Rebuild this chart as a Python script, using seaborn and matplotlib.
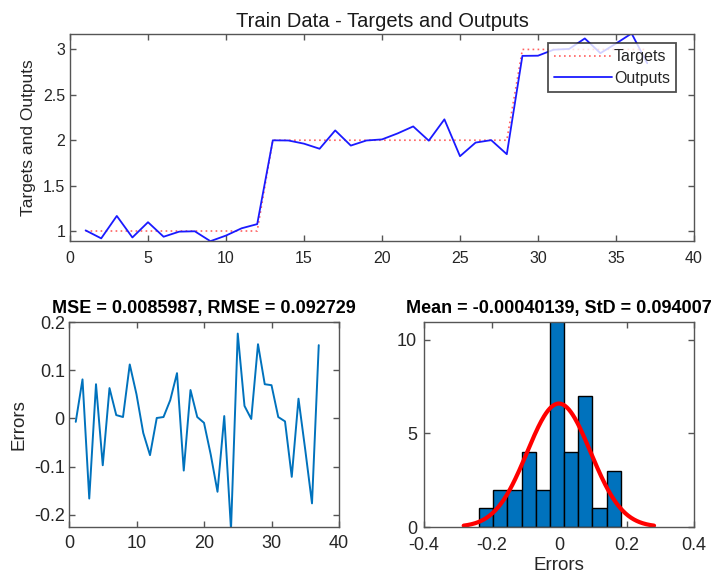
import numpy as np
import pandas as pd
import matplotlib
matplotlib.use("Agg")
import matplotlib.pyplot as plt
import seaborn as sns

# ---------------- data ----------------
sample_idx = list(range(1, 38))
targets = [1]*12 + [2]*16 + [3]*9
errors = [-0.007, 0.081, -0.166, 0.071, -0.097, 0.063, 0.007, 0.003, 0.112, 0.050,
          -0.030, -0.076, 0.001, 0.003, 0.038, 0.094, -0.108, 0.059, 0.003, -0.009,
          -0.075, -0.152, 0.005, -0.230, 0.176, 0.026, -0.001, 0.154, 0.071, 0.069,
          0.003, -0.006, -0.121, 0.041, -0.065, -0.176, 0.152]
outputs = [t - e for t, e in zip(targets, errors)]
hist_edges = [-0.237 + 0.042*k for k in range(11)]
mse, rmse = 0.0085987, 0.092729
err_mean, err_std = -0.00040139, 0.094007

# ---------------- styling ----------------
sns.set_theme(style="white")
plt.rcParams['font.family'] = ['Liberation Sans', 'DejaVu Sans']
EDGE = '#555555'
TXT = '#262626'
plt.rcParams.update({
    'axes.edgecolor': EDGE, 'axes.linewidth': 1.0,
    'xtick.color': EDGE, 'ytick.color': EDGE,
    'xtick.labelcolor': TXT, 'ytick.labelcolor': TXT,
    'axes.labelcolor': TXT,
})

W, H = 711, 578
fig = plt.figure(figsize=(W/100, H/100), dpi=100)

def box(l, t, r, b):
    return [l/W, 1 - b/H, (r-l)/W, (b-t)/H]

ax1 = fig.add_axes(box(70, 34, 694, 241))
ax2 = fig.add_axes(box(69, 322, 339, 527))
ax3 = fig.add_axes(box(424, 322, 694, 527))

def matlab_ticks(ax, size, xpad, ypad):
    ax.tick_params(direction='in', length=4, width=1.0, top=True, right=True,
                   bottom=True, left=True, labelsize=size)
    ax.tick_params(axis='x', pad=xpad)
    ax.tick_params(axis='y', pad=ypad)
    for s in ax.spines.values():
        s.set_visible(True)
        s.set_color(EDGE)

# ---------------- top: targets and outputs ----------------
df = pd.DataFrame({'x': sample_idx, 'Targets': targets, 'Outputs': outputs})
sns.lineplot(data=df, x='x', y='Targets', ax=ax1, color='#ff6060',
             linestyle=(0, (1, 2)), linewidth=1.2, label='Targets')
sns.lineplot(data=df, x='x', y='Outputs', ax=ax1, color='#1a1aff',
             linewidth=1.3, label='Outputs')
ax1.set_xlim(0, 40)
ax1.set_ylim(0.89, 3.17)
ax1.set_xticks(range(0, 41, 5))
ax1.set_yticks([1, 1.5, 2, 2.5, 3])
ax1.set_yticklabels(['1', '1.5', '2', '2.5', '3'])
ax1.set_xlabel('')
ax1.set_ylabel('Targets and Outputs', fontsize=12.5, labelpad=5)
ax1.set_title('Train Data - Targets and Outputs', fontsize=14.5, fontweight='normal',
              color='#1a1a1a', pad=5)
matlab_ticks(ax1, 11.5, 7.5, 3.5)
leg = ax1.legend(loc='upper right', fontsize=11.5, frameon=True, fancybox=False,
                 borderpad=0.4, handlelength=3.6, labelspacing=0.4,
                 borderaxespad=0.55, handletextpad=0.15, bbox_to_anchor=(0.986, 1.0))
leg.get_frame().set_edgecolor('#222222')
leg.get_frame().set_linewidth(1.3)

# ---------------- bottom-left: errors ----------------
dfe = pd.DataFrame({'x': sample_idx, 'Errors': errors})
sns.lineplot(data=dfe, x='x', y='Errors', ax=ax2, color='#0072BD', linewidth=1.4)
ax2.set_xlim(0, 40)
ax2.set_ylim(-0.225, 0.2)
ax2.set_xticks([0, 10, 20, 30, 40])
ax2.set_yticks([-0.2, -0.1, 0, 0.1, 0.2])
ax2.set_yticklabels(['-0.2', '-0.1', '0', '0.1', '0.2'])
ax2.set_xlabel('')
ax2.set_ylabel('Errors', fontsize=13.5, labelpad=5)
ax2.set_title(f'MSE = {mse}, RMSE = {rmse}', fontsize=13, fontweight='bold',
              color='black', pad=6.5)
matlab_ticks(ax2, 13, 6, 3)

# ---------------- bottom-right: histogram ----------------
sns.histplot(x=errors, bins=hist_edges, ax=ax3, color='#0072BD', alpha=1,
             edgecolor='black', linewidth=1.0)
xs = np.linspace(err_mean - 3*err_std, err_mean + 3*err_std, 200)
scale = len(errors) * (hist_edges[1] - hist_edges[0])
pdf = scale / (err_std*np.sqrt(2*np.pi)) * np.exp(-0.5*((xs - err_mean)/err_std)**2)
sns.lineplot(x=xs, y=pdf, ax=ax3, color='red', linewidth=3)
ax3.set_xlim(-0.4, 0.4)
ax3.set_ylim(0, 10.95)
ax3.set_xticks([-0.4, -0.2, 0, 0.2, 0.4])
ax3.set_xticklabels(['-0.4', '-0.2', '0', '0.2', '0.4'])
ax3.set_yticks([0, 5, 10])
ax3.set_ylabel('')
ax3.set_xlabel('Errors', fontsize=13.5, labelpad=2)
ax3.set_title(f'Mean = {err_mean}, StD = {err_std}', fontsize=13, fontweight='bold',
              color='black', pad=6.5)
matlab_ticks(ax3, 13, 7.5, 5)

fig.savefig('out.png', dpi=100, facecolor='white')
